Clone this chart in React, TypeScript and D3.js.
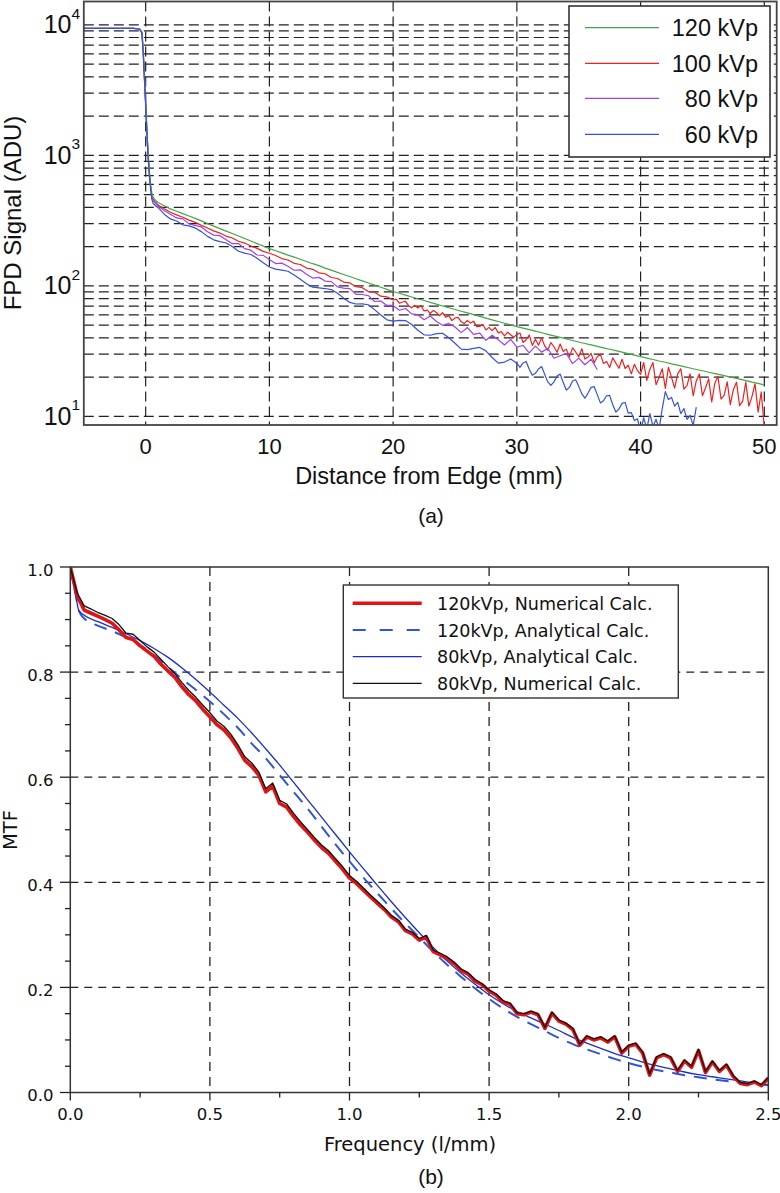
import React from "react";
import * as d3 from "d3";

const W = 780;
const H = 1193;

// ---------------- Panel (a): edge profiles (log scale) ----------------
const distEdge = [-5, -1, -0.5, -0.3, -0.2, -0.1, 0, 0.1, 0.2, 0.3, 0.4, 0.5, 0.6, 0.8];

const edge120 = [9400, 9420, 9300, 8800, 6500, 4200, 2600, 1600, 1050, 760, 600, 510, 478, 452];
const tail120 = [
  436, 412, 389, 373, 358, 343, 329, 315, 300,
  287, 275, 263, 252, 241, 231, 221, 211, 202, 193,
  186, 179, 172, 166, 160, 154, 148, 143, 137, 132,
  127, 122.4, 118, 113.5, 109.3, 105.3, 101.4, 97.6, 94, 90.6,
  87.8, 85, 82.3, 79.8, 77.3, 74.9, 72.5, 70.2, 68, 66,
  64, 62.1, 60.3, 58.5, 56.7, 55, 53.4, 51.8, 50.3, 48.8,
  47.5, 46.2, 45, 43.8, 42.6, 41.4, 40.3, 39.2, 38.2, 37.2,
  36.2, 35.3, 34.4, 33.5, 32.7, 31.9, 31.1, 30.3, 29.5, 28.7,
  28, 27.3, 26.6, 26, 25.3, 24.7, 24.1, 23.5, 22.9, 22.4,
  21.8, 21.3, 20.8, 20.3, 19.8, 19.3, 18.8, 18.3, 17.9, 17.4,
];

const edge100 = [9400, 9400, 9300, 8700, 6300, 4000, 2500, 1550, 1000, 730, 580, 490, 460, 438];
const mid100 = [
  416, 390, 367, 350, 336, 319, 307, 291, 278,
  264, 254, 241, 233, 220, 213, 202, 194, 184, 178,
  171, 162, 158, 149, 146, 137, 134, 126, 124, 116,
  114, 107, 105.5, 98.5, 97, 90.5, 89.5, 83.5, 82.5, 78,
];
const tail100 = [
  79.3, 73.7, 75.3, 76.1, 70.6, 68.0, 71.0, 67.8, 70.8, 64.3, 65.2, 61.5, 64.9, 62.6, 59.1, 62.3, 57.7, 59.2, 54.2, 56.8,
  57.5, 53.3, 51.4, 54.3, 51.9, 53.7, 48.8, 49.0, 50.6, 46.0, 48.1, 45.5, 48.0, 43.7, 44.7, 41.4, 44.2, 42.2, 40.3, 42.5,
  43.5, 36.9, 38.7, 42.1, 35.0, 39.0, 35.1, 40.0, 34.7, 32.1, 36.8, 34.2, 31.0, 35.9, 31.4, 32.8, 28.6, 33.5, 31.2, 28.6,
  33.0, 27.5, 28.5, 30.4, 25.8, 28.7, 30.0, 25.5, 26.4, 23.7, 28.1, 25.6, 23.4, 27.4, 23.3, 24.7, 21.2, 25.1, 22.4, 21.0,
  25.9, 18.9, 23.0, 25.9, 17.5, 20.0, 23.2, 16.4, 23.8, 19.9, 16.5, 21.2, 23.2, 16.2, 17.2, 21.2, 14.4, 18.7, 21.1, 14.4,
  16.6, 19.4, 12.9, 18.0, 20.3, 13.6, 14.5, 18.4, 12.3, 16.1, 18.3, 12.1, 13.1, 18.3, 12.0, 14.2, 17.8, 10.8, 15.4, 8.2,
];

const edge80 = [9400, 9400, 9300, 8700, 6200, 3900, 2450, 1500, 980, 720, 570, 480, 452, 428];
const tail80 = [
  407, 378, 354.5, 331.7, 326.4, 298.9, 291, 283, 260.4, 245,
  242.8, 226, 210.7, 211.2, 193.1, 187.9, 172.5, 171.4, 159.4, 148.4,
  149.5, 141.4, 131.9, 132.9, 122.8, 114.8, 116.3, 109, 107.9, 98.3,
  96.3, 95.4, 86.1, 86, 84.2, 76, 76.7, 70.9,
  70.9, 65.1, 67.2, 61.1, 60.2, 55.1, 58.8, 53.4, 49.9, 51.6,
  48.4, 43.9, 48.0, 42.6, 43.5, 38.3, 41.9, 38.7, 35.3, 38.9,
  33.9, 35.1, 30.7, 34.6, 31.1, 33.3, 27.9, 29.2, 30.4, 25.4,
  28.0, 24.9, 27.5, 22.8,
];

const edge60 = [9400, 9400, 9300, 8600, 6000, 3800, 2400, 1450, 950, 700, 550, 460, 430, 410];
const mid60 = [
  398, 354.4, 326, 314.1, 294, 288.7, 278.1, 260.6, 239.6, 225.5,
  218.4, 213.2, 200.3, 184.2, 178.3, 174.1, 163.2, 150.5, 139.5, 134.6,
  132.1, 129.5, 121.4, 112.5, 104, 97.9, 96.7, 95.5, 93.7, 87.8,
  80.6, 74.7, 72.7, 72.9, 71.7, 65.8, 59.8, 55, 53.7, 54.4,
  54.3, 50.6, 45.8, 42.2, 41.9, 43.1, 43.4, 40.1, 36.4, 32.8,
  32.5, 33.2, 33.8, 31.8, 28.3, 25.6, 26.1, 27.5, 25.6,
];
const tail60 = [
  23.8, 25.7, 26.4, 23.0, 20.7, 21.4, 23.1, 24.1, 21.0, 18.4, 17.3, 18.4, 20.4, 21.1, 18.2, 15.9, 16.7, 18.7, 19.1, 17.0,
  14.9, 13.8, 15.1, 16.7, 16.9, 14.7, 12.7, 13.2, 14.4, 14.5, 12.3, 10.8, 11.4, 12.6, 12.8, 10.6, 10.7, 9.3, 9.6, 7.6,
  9.8, 8, 10.5, 8.4, 9.5, 8, 11.5, 15.5, 13.5, 14, 12, 12.8, 10.5, 11.5, 9.5, 10.2, 8.5, 11.8,
];

const kvpLabels = ["120 kVp", "100 kVp", "80 kVp", "60 kVp"];
const xTicksA = [0, 10, 20, 30, 40, 50];
const yDecadesA = [1, 2, 3, 4];

// ---------------- Panel (b): MTF ----------------
const freqNum = d3.range(0, 2.5001, 0.025);
const mtf120Num = [
  1.0, 0.945, 0.918, 0.912, 0.906, 0.9, 0.893, 0.88, 0.866, 0.862,
  0.85, 0.84, 0.83, 0.815, 0.802, 0.79, 0.772, 0.757, 0.745, 0.729,
  0.715, 0.7, 0.69, 0.675, 0.655, 0.632, 0.62, 0.604, 0.572, 0.583,
  0.55, 0.543, 0.525, 0.509, 0.495, 0.48, 0.466, 0.455, 0.44, 0.425,
  0.408, 0.398, 0.385, 0.372, 0.36, 0.348, 0.334, 0.325, 0.308, 0.302,
  0.29, 0.296, 0.268, 0.262, 0.255, 0.245, 0.232, 0.225, 0.212, 0.205,
  0.193, 0.185, 0.172, 0.168, 0.15, 0.148, 0.153, 0.148, 0.122, 0.151,
  0.136, 0.13, 0.12, 0.09, 0.106, 0.1, 0.104, 0.096, 0.106, 0.075,
  0.088, 0.092, 0.075, 0.033, 0.066, 0.072, 0.066, 0.04, 0.06, 0.048,
  0.08, 0.038, 0.058, 0.04, 0.052, 0.03, 0.017, 0.015, 0.02, 0.013,
  0.027,
];
const mtf80Num = [
  1.0, 0.95, 0.926, 0.92, 0.913, 0.908, 0.902, 0.89, 0.874, 0.872,
  0.86, 0.848, 0.838, 0.824, 0.81, 0.797, 0.78, 0.765, 0.752, 0.737,
  0.723, 0.707, 0.697, 0.682, 0.662, 0.639, 0.627, 0.61, 0.578, 0.589,
  0.556, 0.549, 0.531, 0.515, 0.5, 0.485, 0.471, 0.46, 0.445, 0.43,
  0.413, 0.402, 0.389, 0.376, 0.364, 0.351, 0.337, 0.328, 0.311, 0.305,
  0.293, 0.299, 0.271, 0.265, 0.258, 0.248, 0.235, 0.228, 0.215, 0.207,
  0.195, 0.188, 0.175, 0.17, 0.152, 0.15, 0.155, 0.15, 0.124, 0.153,
  0.138, 0.132, 0.122, 0.092, 0.108, 0.102, 0.106, 0.098, 0.108, 0.077,
  0.09, 0.094, 0.077, 0.035, 0.068, 0.074, 0.068, 0.042, 0.062, 0.05,
  0.082, 0.04, 0.06, 0.042, 0.054, 0.032, 0.019, 0.017, 0.022, 0.015,
  0.029,
];
const freqAna = [0, 0.01, 0.02, 0.03, ...d3.range(0.05, 2.5001, 0.05)];
const mtf120Ana = [
  1.0, 0.97, 0.945, 0.918,
  0.902, 0.888, 0.878, 0.866, 0.852, 0.832, 0.81, 0.787, 0.766, 0.744,
  0.72, 0.694, 0.664, 0.636, 0.604, 0.572, 0.54, 0.506, 0.472, 0.44,
  0.409, 0.379, 0.35, 0.322, 0.295, 0.268, 0.243, 0.22, 0.198, 0.178,
  0.16, 0.144, 0.13, 0.117, 0.104, 0.092, 0.082, 0.073, 0.064, 0.056,
  0.049, 0.043, 0.038, 0.033, 0.029, 0.025, 0.022, 0.019, 0.016, 0.014,
];
const mtf80Ana = [
  1.0, 0.97, 0.945, 0.918,
  0.908, 0.896, 0.885, 0.873, 0.86, 0.845, 0.828, 0.808, 0.786, 0.762,
  0.737, 0.712, 0.684, 0.654, 0.623, 0.59, 0.557, 0.524, 0.491, 0.458,
  0.426, 0.394, 0.363, 0.333, 0.304, 0.276, 0.25, 0.227, 0.206, 0.186,
  0.169, 0.154, 0.142, 0.13, 0.118, 0.105, 0.094, 0.084, 0.074, 0.066,
  0.058, 0.051, 0.045, 0.039, 0.034, 0.03, 0.026, 0.022, 0.018, 0.015,
];
const mtfLegend = [
  "120kVp, Numerical Calc.",
  "120kVp, Analytical Calc.",
  "80kVp, Analytical Calc.",
  "80kVp, Numerical Calc.",
];
const xTicksB = [0, 0.5, 1.0, 1.5, 2.0, 2.5];
const yTicksB = [0, 0.2, 0.4, 0.6, 0.8, 1.0];

type Pt = [number, number];
function zip(xs: number[], ys: number[]): Pt[] {
  const n = Math.min(xs.length, ys.length);
  const out: Pt[] = [];
  for (let i = 0; i < n; i++) out.push([xs[i], ys[i]]);
  return out;
}

const FA = "'Liberation Sans', Arial, Helvetica, sans-serif";
const FB = "'DejaVu Sans', Verdana, sans-serif";

export default function App() {
  // ---- panel (a) scales
  const xA = d3.scaleLinear().domain([-5, 51]).range([83.8, 776.7]);
  const yA = d3.scaleLog().domain([8.6, 15100]).range([425, 1.5]);
  const lineA = d3
    .line<Pt>()
    .x((d) => xA(d[0]))
    .y((d) => yA(Math.max(d[1], 1)));

  const s120 = zip([...distEdge, ...d3.range(1, 50.001, 0.5)], [...edge120, ...tail120]);
  const s100 = zip(
    [...distEdge, ...d3.range(1, 20.001, 0.5), ...d3.range(20.25, 50.001, 0.25)],
    [...edge100, ...mid100, ...tail100]
  );
  const s80 = zip([...distEdge, ...d3.range(1, 36.501, 0.5)], [...edge80, ...tail80]);
  const s60 = zip(
    [...distEdge, ...d3.range(1, 30.001, 0.5), ...d3.range(30.25, 44.501, 0.25)],
    [...edge60, ...mid60, ...tail60]
  );
  const colA = ["#44a544", "#ee2020", "#a040f0", "#3352dd"];
  const seriesA = [s120, s100, s80, s60];
  const drawOrderA = [1, 2, 0, 3];

  const gridYA = yA.ticks().filter((v) => v >= 10 && v <= 10000);

  // ---- panel (b) scales
  const xB = d3.scaleLinear().domain([0, 2.5]).range([70.3, 768.3]);
  const yB = d3.scaleLinear().domain([0, 1]).range([1092.5, 567]);
  const lineB = d3
    .line<Pt>()
    .x((d) => xB(d[0]))
    .y((d) => yB(d[1]));
  const smoothB = d3
    .line<Pt>()
    .x((d) => xB(d[0]))
    .y((d) => yB(d[1]))
    .curve(d3.curveMonotoneX);

  const n120 = zip(freqNum, mtf120Num);
  const n80 = zip(freqNum, mtf80Num);
  const a120 = zip(freqAna, mtf120Ana);
  const a80 = zip(freqAna, mtf80Ana);
  const minorY = d3.range(0, 1.0001, 0.05);
  const minorX = d3.range(0.25, 2.5, 0.5);

  const legStyleB = [
    { stroke: "#e01414", w: 3.6, dash: undefined as string | undefined },
    { stroke: "#2f55d8", w: 2, dash: "13,14" },
    { stroke: "#1a2ed0", w: 1.3, dash: undefined },
    { stroke: "#111111", w: 1.3, dash: undefined },
  ];
  const legRowsB = [603.3, 630, 656.7, 683.3];
  const legRowsA = [27.7, 63.3, 98.3, 134.3];

  return (
    <svg
      width={W}
      height={H}
      viewBox={`0 0 ${W} ${H}`}
      style={{ position: "absolute", left: 0, top: 0, background: "#fff" }}
    >
      <defs>
        <clipPath id="clipA">
          <rect x={83.8} y={1.5} width={776.7 - 83.8} height={425 - 1.5} />
        </clipPath>
        <clipPath id="clipB">
          <rect x={70.3} y={567} width={768.3 - 70.3} height={1092.5 - 567} />
        </clipPath>
      </defs>
      <rect x={0} y={0} width={W} height={H} fill="#fff" />

      {/* ================= Panel (a) ================= */}
      <g>
        {gridYA.map((v, i) => (
          <line
            key={"gya" + i}
            x1={83.8}
            x2={776.7}
            y1={yA(v)}
            y2={yA(v)}
            stroke="#222"
            strokeWidth={1.2}
            strokeDasharray="10,5"
          />
        ))}
        {xTicksA.map((v) => (
          <line
            key={"gxa" + v}
            x1={xA(v)}
            x2={xA(v)}
            y1={1.5}
            y2={425}
            stroke="#222"
            strokeWidth={1.2}
            strokeDasharray="10,5"
          />
        ))}
        <g clipPath="url(#clipA)">
          {drawOrderA.map((k) => (
            <path
              key={"sa" + k}
              d={lineA(seriesA[k]) || ""}
              fill="none"
              stroke={colA[k]}
              strokeWidth={1.2}
              strokeLinejoin="round"
            />
          ))}
        </g>
        {/* frame */}
        <rect x={83.8} y={1.5} width={776.7 - 83.8} height={425 - 1.5} fill="none" stroke="#444" strokeWidth={1.8} />

        {/* legend */}
        <rect x={569} y={6} width={201} height={151} fill="#fff" stroke="#333" strokeWidth={1.6} />
        {kvpLabels.map((lab, i) => (
          <g key={"la" + i}>
            <line x1={585} x2={659} y1={legRowsA[i]} y2={legRowsA[i]} stroke={colA[i]} strokeWidth={1.3} />
            <text x={758} y={legRowsA[i] + 8.3} textAnchor="end" fontFamily={FA} fontSize={23.5} fill="#111">
              {lab}
            </text>
          </g>
        ))}

        {/* tick labels */}
        {xTicksA.map((v) => (
          <text key={"txa" + v} x={xA(v)} y={454} textAnchor="middle" fontFamily={FA} fontSize={22} fill="#111">
            {v}
          </text>
        ))}
        {yDecadesA.map((k) => {
          const ty = yA(Math.pow(10, k));
          return (
            <g key={"tya" + k}>
              <text x={71.5} y={ty + 8.5} textAnchor="end" fontFamily={FA} fontSize={25} fill="#111">
                10
              </text>
              <text x={71.5} y={ty - 6} fontFamily={FA} fontSize={15.5} fill="#111">
                {k}
              </text>
            </g>
          );
        })}
        <text x={429} y={484} textAnchor="middle" fontFamily={FA} fontSize={23.5} fill="#111">
          Distance from Edge (mm)
        </text>
        <text
          transform="translate(21,213) rotate(-90)"
          textAnchor="middle"
          fontFamily={FA}
          fontSize={24}
          fill="#111"
        >
          FPD Signal (ADU)
        </text>
        <text x={431} y={523} textAnchor="middle" fontFamily={FA} fontSize={21} fill="#111">
          (a)
        </text>
      </g>

      {/* ================= Panel (b) ================= */}
      <g>
        {yTicksB
          .filter((v) => v > 0 && v < 1)
          .map((v) => (
            <line
              key={"gyb" + v}
              x1={70.3}
              x2={768.3}
              y1={yB(v)}
              y2={yB(v)}
              stroke="#222"
              strokeWidth={1.3}
              strokeDasharray="8,6"
            />
          ))}
        {xTicksB
          .filter((v) => v > 0 && v < 2.5)
          .map((v) => (
            <line
              key={"gxb" + v}
              x1={xB(v)}
              x2={xB(v)}
              y1={567}
              y2={1092.5}
              stroke="#222"
              strokeWidth={1.3}
              strokeDasharray="9,6"
            />
          ))}

        <g clipPath="url(#clipB)">
          <path d={smoothB(a120) || ""} fill="none" stroke="#2f55d8" strokeWidth={2} strokeDasharray="13,9" />
          <path d={smoothB(a80) || ""} fill="none" stroke="#1a2ed0" strokeWidth={1.3} />
          <path d={lineB(n120) || ""} fill="none" stroke="#e01414" strokeWidth={3.6} strokeLinejoin="round" />
          <path d={lineB(n80) || ""} fill="none" stroke="#111" strokeWidth={1.3} strokeLinejoin="round" />
        </g>

        {/* frame */}
        <rect x={70.3} y={567} width={768.3 - 70.3} height={1092.5 - 567} fill="none" stroke="#333" strokeWidth={1.5} />

        {/* ticks */}
        {minorY.map((v, i) => {
          const major = Math.abs(v * 5 - Math.round(v * 5)) < 1e-6;
          return (
            <line
              key={"myb" + i}
              x1={major ? 60 : 65}
              x2={70.3}
              y1={yB(v)}
              y2={yB(v)}
              stroke="#222"
              strokeWidth={1.3}
            />
          );
        })}
        {xTicksB.map((v) => (
          <line key={"tkxb" + v} x1={xB(v)} x2={xB(v)} y1={1092.5} y2={1100.5} stroke="#222" strokeWidth={1.3} />
        ))}
        {minorX.map((v, i) => (
          <line key={"mxb" + i} x1={xB(v)} x2={xB(v)} y1={1092.5} y2={1097.5} stroke="#222" strokeWidth={1.3} />
        ))}

        {/* tick labels */}
        {yTicksB.map((v) => (
          <text key={"lyb" + v} x={53.5} y={yB(v) + 8.5} textAnchor="end" fontFamily={FB} fontSize={16.5} fill="#111">
            {v.toFixed(1)}
          </text>
        ))}
        {xTicksB.map((v) => (
          <text key={"lxb" + v} x={xB(v)} y={1120} textAnchor="middle" fontFamily={FB} fontSize={16.5} fill="#111">
            {v.toFixed(1)}
          </text>
        ))}

        {/* legend */}
        <rect x={343.3} y={585} width={335} height={113} fill="#fff" stroke="#333" strokeWidth={1.4} />
        {mtfLegend.map((lab, i) => (
          <g key={"lb" + i}>
            <line
              x1={352.7}
              x2={421.7}
              y1={legRowsB[i]}
              y2={legRowsB[i]}
              stroke={legStyleB[i].stroke}
              strokeWidth={legStyleB[i].w}
              strokeDasharray={legStyleB[i].dash}
            />
            <text x={437} y={legRowsB[i] + 6.5} fontFamily={FB} fontSize={17.5} fill="#111">
              {lab}
            </text>
          </g>
        ))}

        <text x={410} y={1151} textAnchor="middle" fontFamily={FB} fontSize={19.5} fill="#111">
          Frequency (l/mm)
        </text>
        <text
          transform="translate(17,830) rotate(-90)"
          textAnchor="middle"
          fontFamily={FB}
          fontSize={19.5}
          fill="#111"
        >
          MTF
        </text>
        <text x={431} y={1184} textAnchor="middle" fontFamily={FA} fontSize={21} fill="#111">
          (b)
        </text>
      </g>
    </svg>
  );
}
